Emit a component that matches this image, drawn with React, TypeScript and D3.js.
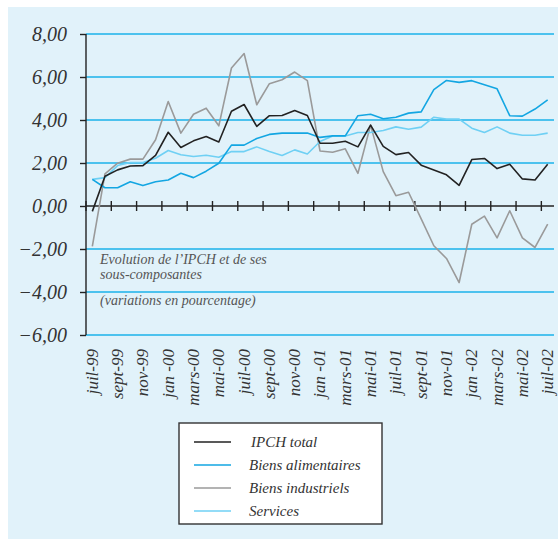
import { useRef, useEffect } from 'react';
import * as d3 from 'd3';

// months, juil-99 .. juil-02 (one point per month)
const months = [
  'juil-99', 'août-99', 'sept-99', 'oct-99', 'nov-99', 'déc-99',
  'jan -00', 'févr-00', 'mars-00', 'avr-00', 'mai-00', 'juin-00',
  'juil-00', 'août-00', 'sept-00', 'oct-00', 'nov-00', 'déc-00',
  'jan -01', 'févr-01', 'mars-01', 'avr-01', 'mai-01', 'juin-01',
  'juil-01', 'août-01', 'sept-01', 'oct-01', 'nov-01', 'déc-01',
  'jan -02', 'févr-02', 'mars-02', 'avr-02', 'mai-02', 'juin-02',
  'juil-02'
];

const ipchTotal = [
  -0.25, 1.38, 1.68, 1.86, 1.88, 2.35, 3.43, 2.72, 3.03, 3.23, 2.98, 4.41,
  4.72, 3.70, 4.20, 4.21, 4.44, 4.21, 2.92, 2.92, 3.01, 2.75, 3.76, 2.77,
  2.39, 2.49, 1.90, 1.68, 1.45, 0.96, 2.16, 2.21, 1.74, 1.94, 1.26, 1.21,
  1.94
];

const biensAlimentaires = [
  1.24, 0.85, 0.85, 1.13, 0.95, 1.13, 1.21, 1.52, 1.32, 1.62, 1.99, 2.83,
  2.83, 3.14, 3.33, 3.39, 3.39, 3.39, 3.19, 3.26, 3.26, 4.20, 4.27, 4.06,
  4.13, 4.32, 4.38, 5.41, 5.84, 5.75, 5.83, 5.64, 5.45, 4.20, 4.18, 4.51,
  4.94
];

const biensIndustriels = [
  -1.88, 1.49, 1.99, 2.18, 2.18, 3.08, 4.86, 3.39, 4.27, 4.55, 3.73, 6.42,
  7.09, 4.71, 5.69, 5.87, 6.23, 5.83, 2.56, 2.50, 2.66, 1.52, 3.76, 1.60,
  0.48, 0.64, -0.60, -1.85, -2.44, -3.56, -0.85, -0.47, -1.48, -0.22, -1.48, -1.93,
  -0.84
];

const services = [
  1.24, 1.32, 1.88, 2.02, 2.02, 2.22, 2.58, 2.38, 2.30, 2.36, 2.27, 2.53,
  2.53, 2.75, 2.53, 2.35, 2.61, 2.42, 3.00, 3.26, 3.26, 3.42, 3.42, 3.51,
  3.68, 3.57, 3.67, 4.13, 4.04, 4.04, 3.62, 3.42, 3.68, 3.39, 3.29, 3.29,
  3.39
];

const yTicks = [8, 6, 4, 2, 0, -2, -4, -6];

const seriesNames = ['IPCH total', 'Biens alimentaires', 'Biens industriels', 'Services'];
const seriesColors = ['#222222', '#13a6e2', '#9a9a9a', '#6fd0f4'];

const W = 558;
const H = 539;
const FONT = '"Liberation Serif", "Times New Roman", serif';

export default function App() {
  const ref = useRef<SVGSVGElement>(null);

  useEffect(() => {
    const svg = d3.select(ref.current);
    svg.selectAll('*').remove();

    svg.append('rect')
      .attr('x', 8).attr('y', 7)
      .attr('width', 550).attr('height', 532)
      .attr('fill', '#e1f2fa');

    const left = 86;
    const right = 554;

    const x = d3.scaleBand<string>()
      .domain(months)
      .range([left, right])
      .padding(0);

    const y = d3.scaleLinear()
      .domain([-6, 8])
      .range([335, 34]);

    const cx = (i: number) => (x(months[i]) as number) + x.bandwidth() / 2;

    // horizontal grid
    svg.append('g')
      .selectAll('line')
      .data(yTicks.filter(d => d !== 0))
      .enter().append('line')
      .attr('x1', left).attr('x2', right)
      .attr('y1', d => y(d)).attr('y2', d => y(d))
      .attr('stroke', '#1ab2ea')
      .attr('stroke-width', 1.4);

    // y axis
    const yAxis = svg.append('g')
      .attr('transform', `translate(${left},0)`)
      .call(d3.axisLeft(y).tickValues(yTicks).tickSize(6).tickPadding(13)
        .tickFormat(d => d3.format('.2f')(d as number).replace('.', ',')));
    yAxis.select('.domain').attr('stroke', '#222').attr('stroke-width', 1.4)
      .attr('d', `M0,${y(-6)}V${y(8)}`);
    yAxis.selectAll('.tick line').attr('stroke', '#222').attr('stroke-width', 1.4);
    yAxis.selectAll('.tick text')
      .attr('font-family', FONT)
      .attr('font-style', 'italic')
      .attr('font-size', 20)
      .attr('fill', '#333');

    // x axis at zero
    const tickMonths = months.filter((_, i) => i % 2 === 0);
    svg.append('line')
      .attr('x1', left).attr('x2', right)
      .attr('y1', y(0)).attr('y2', y(0))
      .attr('stroke', '#222').attr('stroke-width', 1.4);
    svg.append('g')
      .selectAll('line')
      .data(tickMonths)
      .enter().append('line')
      .attr('x1', d => x(d) as number).attr('x2', d => x(d) as number)
      .attr('y1', y(0) - 5).attr('y2', y(0) + 5)
      .attr('stroke', '#222').attr('stroke-width', 1.4);

    // x labels (rotated)
    svg.append('g')
      .selectAll('text')
      .data(tickMonths)
      .enter().append('text')
      .attr('transform', d => `translate(${(x(d) as number) + x.bandwidth() / 2},349) rotate(-90)`)
      .attr('dy', '0.32em')
      .attr('text-anchor', 'end')
      .attr('font-family', FONT)
      .attr('font-style', 'italic')
      .attr('font-size', 17)
      .attr('fill', '#333')
      .text(d => d);

    // series
    const allSeries = [ipchTotal, biensAlimentaires, biensIndustriels, services];
    const drawOrder = [2, 3, 1, 0];
    const line = d3.line<number>()
      .x((_, i) => cx(i))
      .y(d => y(d));
    drawOrder.forEach(k => {
      svg.append('path')
        .datum(allSeries[k])
        .attr('d', line)
        .attr('fill', 'none')
        .attr('stroke', seriesColors[k])
        .attr('stroke-width', 1.6)
        .attr('stroke-linejoin', 'round');
    });

    // annotation
    const note = svg.append('g')
      .attr('font-family', FONT)
      .attr('font-style', 'italic')
      .attr('font-size', 14)
      .attr('fill', '#555');
    note.append('text').attr('x', 100).attr('y', 264).text('Evolution de l\u2019IPCH et de ses');
    note.append('text').attr('x', 100).attr('y', 279).text('sous-composantes');
    note.append('text').attr('x', 100).attr('y', 305).text('(variations en pourcentage)');

    // legend
    const legend = svg.append('g');
    legend.append('rect')
      .attr('x', 179).attr('y', 423)
      .attr('width', 203).attr('height', 101)
      .attr('fill', '#ffffff')
      .attr('stroke', '#333')
      .attr('stroke-width', 1.4);
    const rowY = [442, 465, 488, 511];
    seriesNames.forEach((name, k) => {
      legend.append('line')
        .attr('x1', 194).attr('x2', 231)
        .attr('y1', rowY[k]).attr('y2', rowY[k])
        .attr('stroke', seriesColors[k])
        .attr('stroke-width', 1.4);
      legend.append('text')
        .attr('x', k === 0 ? 251 : 249)
        .attr('y', rowY[k])
        .attr('dy', '0.32em')
        .attr('font-family', FONT)
        .attr('font-style', 'italic')
        .attr('font-size', 15)
        .attr('fill', '#333')
        .text(name);
    });
  }, []);

  return (
    <div style={{ position: 'absolute', left: 0, top: 0 }}>
      <svg ref={ref} width={W} height={H} style={{ display: 'block' }}></svg>
    </div>
  );
}
